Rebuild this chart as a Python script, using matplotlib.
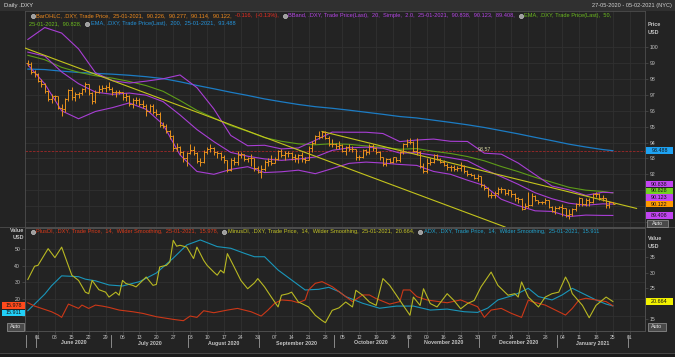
import matplotlib
matplotlib.use('Agg')
import matplotlib.pyplot as plt
import matplotlib.transforms as mtransforms
from matplotlib.patches import Rectangle
from matplotlib.lines import Line2D
import numpy as np
import pandas as pd

plt.rcParams['font.family'] = ['Liberation Sans', 'DejaVu Sans']

W, H = 675, 357

# ---- daily bars (.DXY, 27-05-2020 .. 25-01-2021) ----
opens = [99.04, 98.96, 98.47, 98.34, 97.89, 97.68, 97.28, 96.74, 96.93, 96.91,
         96.20, 96.09, 96.72, 97.31, 96.84, 97.05, 97.14, 97.38, 97.67, 97.13,
         96.62, 97.19, 97.40, 97.43, 97.47, 97.39, 97.17, 97.19, 97.18, 96.85,
         96.93, 96.43, 96.69, 96.66, 96.46, 96.30, 95.98, 96.30, 95.92, 95.79,
         95.09, 95.02, 94.70, 94.43, 93.67, 93.71, 93.43, 93.05, 93.35, 93.55,
         93.36, 92.86, 92.79, 93.43, 93.62, 93.63, 93.42, 93.35, 93.09, 92.88,
         92.26, 92.93, 92.79, 93.24, 93.27, 92.99, 93.02, 93.03, 92.37, 92.14,
         92.34, 92.75, 92.82, 92.71, 92.99, 93.44, 93.24, 93.35, 93.33, 93.06,
         93.05, 93.20, 92.96, 92.93, 93.66, 94.00, 94.40, 94.35, 94.64, 94.30,
         93.90, 93.89, 93.76, 93.84, 93.49, 93.74, 93.62, 93.60, 93.06, 93.07,
         93.53, 93.39, 93.81, 93.68, 93.43, 93.06, 92.62, 92.94, 92.76, 93.06,
         92.93, 93.40, 93.90, 94.04, 94.03, 93.50, 93.43, 92.52, 92.23, 92.74,
         92.77, 93.22, 92.97, 92.76, 92.58, 92.45, 92.47, 92.31, 92.38, 92.50,
         92.23, 92.00, 91.98, 91.79, 91.87, 91.32, 91.12, 90.71, 90.70, 90.80,
         91.08, 91.06, 90.85, 90.98, 90.73, 90.49, 90.46, 89.82, 90.02, 90.09,
         90.66, 90.36, 90.24, 90.23, 90.35, 89.97, 89.67, 89.89, 89.94, 89.88,
         89.43, 89.53, 89.83, 90.10, 90.48, 90.10, 90.39, 90.23, 90.77, 90.75,
         90.53, 90.48, 90.07, 90.226]
highs = [99.20, 99.05, 98.60, 98.40, 98.00, 97.75, 97.30, 97.05, 97.00, 96.95,
         96.40, 96.80, 97.40, 97.50, 97.20, 97.20, 97.45, 97.80, 97.70, 97.20,
         97.30, 97.60, 97.60, 97.60, 97.80, 97.50, 97.30, 97.30, 97.20, 97.10,
         97.00, 96.80, 96.90, 96.80, 96.70, 96.40, 96.40, 96.40, 96.10, 95.90,
         95.30, 95.20, 94.80, 94.50, 94.00, 93.80, 93.50, 93.40, 93.90, 93.80,
         93.40, 93.00, 93.55, 93.70, 93.90, 93.70, 93.50, 93.40, 93.20, 92.90,
         93.00, 93.10, 93.50, 93.40, 93.30, 93.10, 93.30, 93.05, 92.50, 92.60,
         92.90, 93.00, 93.20, 93.10, 93.55, 93.60, 93.50, 93.50, 93.40, 93.30,
         93.30, 93.40, 93.10, 93.80, 94.10, 94.50, 94.70, 94.74, 94.70, 94.40,
         94.20, 94.00, 94.10, 93.90, 93.80, 93.90, 93.80, 93.60, 93.20, 93.60,
         93.60, 93.90, 93.90, 93.70, 93.50, 93.10, 93.00, 93.00, 93.10, 93.10,
         93.50, 94.00, 94.20, 94.30, 94.10, 94.30, 93.50, 92.70, 93.00, 93.00,
         93.30, 93.30, 93.00, 92.90, 92.70, 92.60, 92.60, 92.50, 92.80, 92.60,
         92.30, 92.10, 92.00, 92.00, 91.90, 91.40, 91.20, 90.90, 90.95, 91.20,
         91.20, 91.10, 91.10, 91.00, 90.80, 90.60, 90.50, 90.20, 90.90, 90.80,
         90.70, 90.40, 90.30, 90.50, 90.40, 90.00, 90.00, 90.00, 90.10, 89.90,
         89.80, 89.90, 90.20, 90.60, 90.50, 90.50, 90.50, 90.80, 90.90, 90.80,
         90.70, 90.50, 90.30, 90.277]
lows = [98.80, 98.35, 98.10, 97.80, 97.50, 97.10, 96.60, 96.50, 96.60, 96.10,
        95.70, 95.90, 96.60, 96.70, 96.60, 96.80, 97.00, 97.20, 97.00, 96.40,
        96.50, 97.10, 97.20, 97.20, 97.30, 97.00, 96.90, 97.05, 96.70, 96.60,
        96.30, 96.20, 96.40, 96.30, 96.20, 95.70, 95.90, 95.80, 95.70, 94.95,
        94.90, 94.60, 94.20, 93.50, 93.50, 93.20, 92.80, 92.55, 93.30, 93.20,
        92.70, 92.50, 92.70, 93.30, 93.40, 93.20, 93.00, 92.90, 92.70, 92.15,
        92.20, 92.60, 92.60, 93.00, 92.85, 92.80, 92.50, 92.20, 92.10, 91.75,
        92.20, 92.50, 92.60, 92.70, 92.90, 93.10, 92.90, 93.10, 92.90, 92.80,
        92.70, 92.80, 92.70, 92.90, 93.40, 93.90, 94.20, 94.30, 94.20, 93.80,
        93.70, 93.60, 93.60, 93.40, 93.20, 93.50, 93.40, 92.90, 92.90, 93.00,
        93.20, 93.30, 93.50, 93.30, 92.90, 92.50, 92.50, 92.70, 92.70, 92.80,
        92.80, 93.30, 93.70, 93.90, 93.40, 93.20, 92.40, 92.10, 92.10, 92.60,
        92.70, 92.90, 92.70, 92.50, 92.30, 92.20, 92.20, 92.20, 92.20, 92.10,
        91.90, 91.90, 91.70, 91.60, 91.20, 91.00, 90.60, 90.50, 90.50, 90.70,
        90.80, 90.70, 90.70, 90.60, 90.30, 90.20, 89.72, 89.80, 89.90, 90.00,
        90.30, 90.10, 90.10, 90.10, 89.90, 89.60, 89.50, 89.80, 89.40, 89.30,
        89.20, 89.40, 89.70, 90.00, 90.00, 90.00, 90.00, 90.20, 90.60, 90.40,
        90.30, 89.90, 89.90, 90.114]
closes = [98.96, 98.47, 98.34, 97.89, 97.68, 97.28, 96.74, 96.93, 96.91, 96.20,
          96.09, 96.72, 97.31, 96.84, 97.05, 97.14, 97.38, 97.67, 97.13, 96.62,
          97.19, 97.40, 97.43, 97.47, 97.39, 97.17, 97.19, 97.18, 96.85, 96.93,
          96.43, 96.69, 96.66, 96.46, 96.30, 95.98, 96.30, 95.92, 95.79, 95.09,
          95.02, 94.70, 94.43, 93.67, 93.71, 93.43, 93.05, 93.35, 93.55, 93.36,
          92.86, 92.79, 93.43, 93.62, 93.63, 93.42, 93.35, 93.09, 92.88, 92.26,
          92.93, 92.79, 93.24, 93.27, 92.99, 93.02, 93.03, 92.37, 92.14, 92.34,
          92.75, 92.82, 92.71, 92.99, 93.44, 93.24, 93.35, 93.33, 93.06, 93.05,
          93.20, 92.96, 92.93, 93.66, 94.00, 94.40, 94.35, 94.64, 94.30, 93.90,
          93.89, 93.76, 93.84, 93.49, 93.74, 93.62, 93.60, 93.06, 93.07, 93.53,
          93.39, 93.81, 93.68, 93.43, 93.06, 92.62, 92.94, 92.76, 93.06, 92.93,
          93.40, 93.90, 94.04, 94.03, 93.50, 93.43, 92.52, 92.23, 92.74, 92.77,
          93.22, 92.97, 92.76, 92.58, 92.45, 92.47, 92.31, 92.38, 92.50, 92.23,
          92.00, 91.98, 91.79, 91.87, 91.32, 91.12, 90.71, 90.70, 90.80, 91.08,
          91.06, 90.85, 90.98, 90.73, 90.49, 90.46, 89.82, 90.02, 90.09, 90.66,
          90.36, 90.24, 90.23, 90.35, 89.97, 89.67, 89.89, 89.94, 89.88, 89.43,
          89.53, 89.83, 90.10, 90.48, 90.10, 90.39, 90.23, 90.77, 90.75, 90.53,
          90.48, 90.07, 90.23, 90.122]

# ---- overlays read weekly (bar index -> value) ----
ind_idx = [0, 5, 10, 15, 20, 25, 30, 35, 40, 45, 50, 55, 60, 65, 70, 75, 80, 85,
           90, 95, 100, 105, 110, 115, 120, 125, 130, 135, 140, 145, 150, 155,
           160, 165, 170, 173]
bb_upper = [100.50, 101.25, 100.90, 99.90, 98.40, 97.90, 97.75, 97.87, 98.02,
            98.26, 97.46, 96.12, 94.45, 93.80, 93.83, 93.60, 93.66, 94.14, 94.66,
            94.65, 94.65, 94.57, 94.06, 94.16, 94.22, 94.08, 94.07, 93.33, 93.27,
            92.71, 91.98, 91.26, 91.02, 90.67, 90.87, 90.838]
bb_mid = [99.70, 99.45, 98.45, 97.71, 97.18, 97.04, 97.12, 96.98, 96.58, 95.74,
          94.82, 94.06, 93.38, 93.14, 92.97, 92.88, 92.96, 93.09, 93.51, 93.67,
          93.71, 93.64, 93.34, 93.36, 93.20, 93.04, 92.85, 92.31, 91.85, 91.37,
          90.84, 90.46, 90.18, 90.05, 90.14, 90.123]
bb_lower = [98.90, 97.70, 96.00, 95.50, 95.96, 96.20, 96.50, 96.09, 95.14, 93.22,
            92.18, 92.00, 92.31, 92.48, 92.11, 92.16, 92.26, 92.04, 92.36, 92.69,
            92.77, 92.71, 92.62, 92.56, 92.18, 92.00, 91.63, 91.29, 90.43, 90.03,
            89.70, 89.66, 89.34, 89.43, 89.41, 89.408]
ema50 = [99.50, 99.22, 98.74, 98.43, 98.21, 98.06, 97.85, 97.59, 97.23, 96.65,
         96.03, 95.55, 95.07, 94.71, 94.31, 94.08, 93.92, 93.86, 93.93, 93.89,
         93.79, 93.70, 93.58, 93.62, 93.45, 93.31, 93.12, 92.85, 92.49, 92.17,
         91.81, 91.50, 91.18, 91.00, 90.92, 90.828]
ema200 = [98.63, 98.60, 98.50, 98.42, 98.36, 98.31, 98.24, 98.15, 98.03, 97.83,
          97.60, 97.39, 97.17, 96.97, 96.75, 96.57, 96.40, 96.26, 96.16, 96.04,
          95.91, 95.78, 95.64, 95.55, 95.41, 95.27, 95.12, 94.95, 94.75, 94.55,
          94.33, 94.12, 93.90, 93.72, 93.56, 93.488]

# drawn trend lines (two anchor points each)
trend_a_idx = [0, 140]
trend_a = [99.89, 88.77]
trend_b_idx = [87, 180]
trend_b = [94.70, 89.85]
ref_level = 93.488
note_idx, note_value = 135, 93.57

# ---- DMI panel ----
plus_idx = [0, 2, 7, 9, 10, 12, 15, 16, 18, 20, 22, 24, 27, 31, 34, 38, 43, 46, 48, 50,
            52, 55, 59, 62, 66, 69, 71, 73, 75, 78, 80, 82, 83, 85, 87, 90, 92, 94, 96, 99,
            101, 103, 107, 110, 111, 113, 115, 118, 124, 128, 133, 135, 137, 140, 143,
            146, 148, 149, 153, 155, 159, 161, 163, 165, 168, 171, 173]
plus_di = [17.8, 15.8, 12.4, 10.4, 9.0, 17.0, 14.4, 16.4, 14.4, 16.4, 15.8, 15.0, 13.4,
           12.4, 11.4, 9.4, 7.8, 7.0, 9.8, 9.0, 13.0, 11.8, 13.4, 14.4, 12.4, 9.8, 13.4,
           17.5, 19.5, 19.0, 17.8, 19.5, 25.5, 29.5, 30.5, 27.5, 24.5, 21.5, 18.5, 22.5,
           22.5, 20.3, 17.0, 18.5, 25.5, 25.5, 21.5, 19.5, 17.8, 19.5, 15.4, 9.0, 13.4,
           14.4, 11.4, 9.0, 19.5, 18.5, 16.4, 14.4, 10.4, 14.4, 19.5, 20.5, 19.5, 18.5,
           15.978]
adx_idx = [0, 2, 5, 7, 10, 15, 17, 20, 24, 28, 33, 38, 43, 47, 51, 56, 60, 64, 67, 70,
           74, 78, 82, 86, 89, 92, 94, 99, 104, 109, 114, 119, 124, 129, 133, 136, 139,
           143, 145, 148, 151, 155, 158, 161, 165, 168, 171, 173]
adx = [13.0, 17.0, 23.0, 28.0, 34.0, 33.5, 32.0, 31.0, 28.5, 27.9, 30.5, 35.7, 44.7,
       52.6, 55.6, 51.6, 50.6, 47.6, 45.5, 45.5, 37.5, 31.5, 25.5, 25.9, 27.1, 24.5,
       21.5, 17.5, 14.5, 15.8, 15.8, 13.4, 14.0, 12.4, 12.0, 14.6, 19.5, 21.9, 23.5,
       26.5, 21.5, 19.5, 22.5, 26.5, 22.5, 19.5, 17.0, 15.911]
minus_idx = [0, 2, 3, 6, 8, 10, 13, 15, 17, 18, 19, 21, 23, 24, 26, 27, 28, 29, 31, 32,
             35, 37, 38, 39, 41, 42, 43, 44, 45, 47, 49, 50, 52, 53, 55, 56, 57, 58, 59,
             61, 63, 65, 67, 68, 70, 72, 74, 75, 77, 78, 80, 81, 83, 85, 87, 88, 90, 92,
             94, 96, 97, 99, 101, 103, 105, 107, 109, 111, 113, 114, 116, 117, 119, 121,
             124, 126, 128, 130, 132, 134, 137, 139, 142, 144, 145, 146, 148, 151, 153,
             155, 157, 159, 160, 161, 164, 166, 168, 171, 173]
minus_di = [27.8, 32.1, 32.4, 37.8, 34.9, 38.3, 29.2, 27.5, 23.7, 23.2, 27.5, 24.5, 23.7,
            22.1, 23.7, 22.7, 27.5, 26.5, 25.9, 25.4, 28.6, 25.9, 26.2, 31.9, 32.4, 33.5,
            40.5, 38.6, 38.9, 38.3, 34.6, 38.3, 34.0, 32.4, 30.2, 29.2, 30.8, 29.9, 36.2,
            31.9, 27.5, 24.8, 26.7, 28.1, 25.4, 22.1, 18.9, 22.7, 23.2, 23.7, 20.5, 20.0,
            18.9, 16.2, 14.5, 13.8, 17.8, 18.6, 20.5, 18.9, 24.3, 22.7, 20.5, 19.4, 28.1,
            25.9, 22.7, 19.4, 16.2, 22.1, 19.4, 24.8, 20.0, 18.9, 23.2, 21.0, 18.3, 20.0,
            21.0, 25.4, 30.2, 25.9, 22.7, 23.2, 22.1, 27.0, 22.1, 18.9, 22.1, 23.2, 23.7,
            28.6, 26.5, 23.2, 19.4, 15.4, 19.4, 22.1, 20.664]

# colours
BG = '#232323'
GRID = '#313131'
SPINE = '#4e4e4e'
TXT = '#c4c4c4'
C_BAR = '#e8921e'
C_BAND = '#a83ed4'
C_EMA50 = '#5e9c18'
C_EMA200 = '#1c7cc4'
C_TREND = '#c4c41c'
C_PLUS = '#cc3818'
C_MINUS = '#b8b822'
C_ADX = '#1a96ba'

days = pd.bdate_range('2020-05-27', periods=190)
pos = np.arange(len(days))
x_lo, x_hi = -0.84, 182.5

fig = plt.figure(figsize=(W / 100, H / 100), dpi=100, facecolor=BG)


def fbox(left, top, right, bottom):
    return [left / W, 1 - bottom / H, (right - left) / W, (bottom - top) / H]


ax = fig.add_axes(fbox(25, 11, 645, 227), facecolor=BG)
ax2 = fig.add_axes(fbox(25, 228, 645, 331), facecolor=BG, sharex=ax)
ax2r = ax2.twinx()

mondays = pos[(days.dayofweek == 0) & (pos <= x_hi)]

# ---- price panel ----
idx = np.arange(len(closes))
ax.vlines(idx, lows, highs, color=C_BAR, lw=0.7, zorder=4)
ax.hlines(opens, idx - 0.5, idx, color=C_BAR, lw=0.7, zorder=4)
ax.hlines(closes, idx, idx + 0.5, color=C_BAR, lw=0.7, zorder=4)

ax.plot(ind_idx, ema200, color=C_EMA200, lw=0.9, zorder=3)
ax.plot(ind_idx, ema50, color=C_EMA50, lw=0.8, zorder=3)
for band in (bb_upper, bb_mid, bb_lower):
    ax.plot(ind_idx, band, color=C_BAND, lw=0.8, zorder=3)
ax.axline((trend_a_idx[0], trend_a[0]), (trend_a_idx[1], trend_a[1]), color=C_TREND, lw=0.8, zorder=3)
ax.plot(trend_b_idx, trend_b, color=C_TREND, lw=0.8, zorder=3)
ax.axhline(ref_level, color='#a02828', lw=0.6, dashes=(3, 1.5), zorder=2)
ax.text(note_idx, note_value, '93.57', color='#d4d4a0', fontsize=3.8, ha='center', va='center', zorder=5)

ax.set_xlim(x_lo, x_hi)
ax.set_ylim(88.68, 102.29)
ax.yaxis.tick_right()
price_ticks = list(range(89, 101))
ax.set_yticks(price_ticks)
# the lowest levels sit under the last-value boxes, as in the terminal view
ax.set_yticklabels([str(v) if v >= 92 else '' for v in price_ticks])
ax.set_xticks(mondays)
ax.tick_params(axis='x', bottom=False, labelbottom=False)
ax.tick_params(axis='y', colors=SPINE, labelcolor=TXT, labelsize=3.7, length=2.5, width=0.5, pad=1)
ax.grid(True, color=GRID, lw=0.6)

# ---- DMI panel ----
ax2.plot(adx_idx, adx, color=C_ADX, lw=0.8, zorder=3)
ax2.plot(plus_idx, plus_di, color=C_PLUS, lw=0.8, zorder=3)
ax2r.plot(minus_idx, minus_di, color=C_MINUS, lw=0.8, zorder=3)
ax2.set_ylim(0.8, 62.8)
ax2r.set_ylim(11.1, 44.5)
ax2.set_yticks([10, 20, 30, 40, 50])
ax2.set_yticklabels(['', '20', '30', '40', '50'])
ax2r.set_yticks([15, 20, 25, 30, 35])
ax2r.set_yticklabels(['15', '', '25', '30', '35'])
ax2.tick_params(axis='y', colors=SPINE, labelcolor=TXT, labelsize=3.7, length=2.5, width=0.5, pad=1)
ax2r.tick_params(axis='y', colors=SPINE, labelcolor=TXT, labelsize=3.7, length=2.5, width=0.5, pad=1)
ax2.set_xticks(mondays)
ax2.set_xticklabels([d.strftime('%d') for d in days[mondays]])
ax2.tick_params(axis='x', colors=SPINE, labelcolor=TXT, labelsize=3.6, length=2, width=0.5, pad=1)
ax2.grid(True, color=GRID, lw=0.6)
ax2.set_xlim(x_lo, x_hi)

for a in (ax, ax2, ax2r):
    for s in a.spines.values():
        s.set_color(SPINE)
        s.set_linewidth(0.6)

# month labels and separators under the day ticks
blend = mtransforms.blended_transform_factory(ax2.transData, fig.transFigure)
month_keys = days.year * 12 + days.month
for key in np.unique(month_keys):
    mpos = pos[month_keys == key]
    start, end = mpos[0], mpos[-1]
    if x_lo < start - 0.5 < x_hi:
        fig.add_artist(Line2D([start - 0.5, start - 0.5], [1 - 335 / H, 1 - 347 / H],
                              transform=blend, color='#9a9a9a', lw=0.6))
    if start >= 0 and end - start > 10 and (start + end) / 2 < x_hi:
        fig.text((start + end) / 2, 1 - 343 / H, days[start].strftime('%B %Y'),
                 transform=blend, ha='center', va='center', fontsize=3.8,
                 fontweight='bold', color=TXT)

# ---- frame decorations ----
fig.add_artist(Rectangle((0, 1 - 10.5 / H), 1, 10.5 / H, transform=fig.transFigure,
                         facecolor='#303030', edgecolor='none', zorder=0))
fig.add_artist(Line2D([0, 1], [1 - 227.5 / H] * 2, transform=fig.transFigure, color=SPINE, lw=0.6))
fig.add_artist(Line2D([0, 1], [1 - 352.5 / H] * 2, transform=fig.transFigure, color=SPINE, lw=0.6))
fig.add_artist(Rectangle((0, 0), 1, 4.5 / H, transform=fig.transFigure,
                         facecolor='#1a1a1a', edgecolor='none', zorder=0))


def ftext(x, y, s, **kw):
    kw.setdefault('fontsize', 3.9)
    kw.setdefault('color', TXT)
    kw.setdefault('va', 'center')
    return fig.text(x / W, 1 - y / H, s, **kw)


ftext(4, 5.5, 'Daily .DXY', fontsize=4.3, color='#dcdcdc')
ftext(672, 5.5, '27-05-2020 - 05-02-2021 (NYC)', fontsize=4.1, ha='right', color='#d0d0d0')
ftext(648, 24.5, 'Price', fontweight='bold')
ftext(648, 32, 'USD', fontweight='bold')
ftext(24, 231, 'Value', fontweight='bold', ha='right')
ftext(24, 237.5, 'USD', fontweight='bold', ha='right')
ftext(648, 239, 'Value', fontweight='bold')
ftext(648, 247, 'USD', fontweight='bold')

renderer = fig.canvas.get_renderer()


def icon(x, y):
    fig.add_artist(Line2D([x / W], [1 - y / H], transform=fig.transFigure, marker='o',
                          ms=3.0, mfc='#9c9c9c', mec='#dcdcdc', mew=0.4, zorder=6))


def legend_line(x, y, parts, size=4.1):
    for s, color in parts:
        if s is None:
            icon(x + 2.5, y)
            x += 6
            continue
        t = ftext(x, y, s, fontsize=size, color=color, zorder=6)
        x += t.get_window_extent(renderer).width


icon(32.5, 15.5)
legend_line(36, 15.5, [
    ('BarOHLC, .DXY, Trade Price,  25-01-2021,  90.226,  90.277,  90.114,  90.122,  ', '#f08a1c'),
    ('-0.116,  (-0.13%),  ', '#ec2e22'),
    (None, None),
    ('BBand, .DXY, Trade Price(Last),  20,  Simple,  2.0,  25-01-2021,  90.838,  90.123,  89.408,  ', '#b444e4'),
    (None, None),
    ('EMA, .DXY, Trade Price(Last),  50,', '#6cbc1e')])
legend_line(29, 24, [
    ('25-01-2021,  90.828,  ', '#6cbc1e'),
    (None, None),
    ('EMA, .DXY, Trade Price(Last),  200,  25-01-2021,  93.488', '#2494dc')])
icon(32.5, 231.5)
legend_line(36, 231.5, [
    ('PlusDI, .DXY, Trade Price,  14,  Wilder Smoothing,  25-01-2021,  15.978,  ', '#dc3a1a'),
    (None, None),
    ('MinusDI, .DXY, Trade Price,  14,  Wilder Smoothing,  25-01-2021,  20.664,  ', '#c4c426'),
    (None, None),
    ('ADX, .DXY, Trade Price,  14,  Wilder Smoothing,  25-01-2021,  15.911', '#22a2cc')])


def px_y(a, v):
    return H - a.transData.transform((0, v))[1]


def box(x0, yc, w, h, label, fc, tc='#141414', ec='none', size=3.9):
    fig.add_artist(Rectangle((x0 / W, 1 - (yc + h / 2) / H), w / W, h / H, transform=fig.transFigure,
                             facecolor=fc, edgecolor=ec, lw=0.5, zorder=7))
    ftext(x0 + w / 2, yc, label, ha='center', fontsize=size, color=tc, zorder=8)


# last-value boxes on the price scale, stacked upward from the lowest
right_vals = [(89.408, '#c244f2'), (90.122, '#ff9a00'), (90.123, '#c244f2'),
              (90.828, '#72d020'), (90.838, '#c244f2')]
prev = None
for v, c in right_vals:
    y = px_y(ax, v)
    if prev is not None:
        y = min(y, prev - 6.7)
    box(646, y, 27, 6.4, f'{v:.3f}', c)
    prev = y
box(646, px_y(ax, ref_level), 27, 6.4, f'{ref_level:.3f}', '#1ea2f2')
box(647, 223.3, 21, 7, 'Auto', '#4a4a4a', tc='#e4e4e4', ec='#9a9a9a')

# DMI last values
y1 = px_y(ax2, plus_di[-1])
box(2, y1, 23, 6.6, f'{plus_di[-1]:.3f}', '#ff4a1c')
box(2, max(px_y(ax2, adx[-1]), y1 + 7.2), 23, 6.6, f'{adx[-1]:.3f}', '#22d0f8')
box(646, px_y(ax2r, minus_di[-1]), 27, 6.6, f'{minus_di[-1]:.3f}', '#f2f200')
box(7, 327, 17, 7.5, 'Auto', '#4a4a4a', tc='#e4e4e4', ec='#9a9a9a')
box(648, 327, 18, 7.5, 'Auto', '#4a4a4a', tc='#e4e4e4', ec='#9a9a9a')

fig.savefig('out.png', dpi=100, facecolor=BG)
